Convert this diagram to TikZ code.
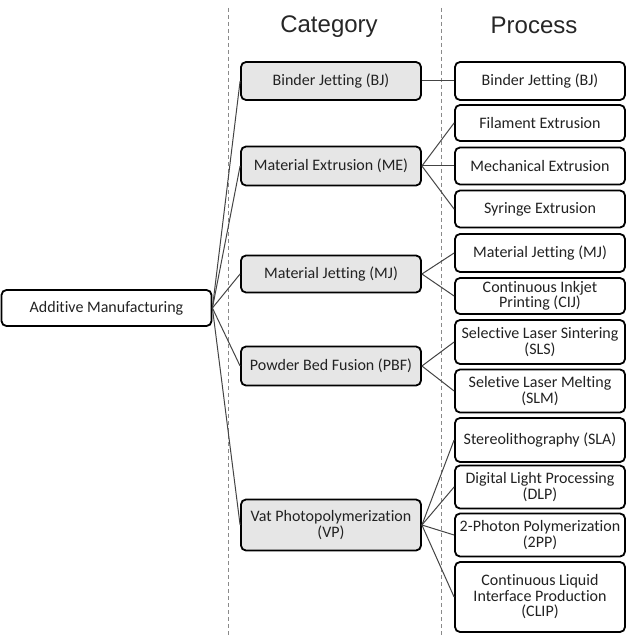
\documentclass[tikz,border=0pt]{standalone}
\usepackage{fontspec}
\setmainfont[Ligatures=NoCommon]{Carlito}
\newfontfamily\headfont{Liberation Sans}
\definecolor{catgray}{HTML}{E6E6E6}
\definecolor{txtgray}{HTML}{222222}
\definecolor{linegray}{HTML}{444444}
\definecolor{dashgray}{HTML}{8A8A8A}
\tikzset{
  box/.style={draw=black,line width=1.8pt,rounded corners=5pt,align=center,
    inner sep=0pt,text=txtgray,font=\fontsize{16}{15.5}\selectfont},
  catbox/.style={box,fill=catgray,minimum width=180pt},
  procbox/.style={box,fill=white,minimum width=170pt},
  link/.style={draw=linegray,line width=1pt},
  coltitle/.style={font=\headfont\fontsize{24}{24}\selectfont,text=black!85}
}
\begin{document}
\begin{tikzpicture}[x=1pt,y=-1pt]
         \useasboundingbox (0,0) rectangle (633,639) ;
         % column separators
         \draw[dashgray,line width=0.8pt,dash pattern=on 4pt off 3pt] (228,8) -- (228,636) ;
         \draw[dashgray,line width=0.8pt,dash pattern=on 4pt off 3pt] (441,8) -- (441,636) ;
         \node[coltitle] (tcat) at (329,27) {Category} ;
         \node[coltitle] (tproc) at (534,25) {Process} ;
         % root
         \node[box,minimum width=210pt,minimum height=36pt] (am) at (106.5,308) {Additive Manufacturing} ;
         % categories
         \node[catbox,minimum height=38pt] (bj) at (331,81) {Binder Jetting (BJ)} ;
         \node[catbox,minimum height=39pt] (me) at (331,166) {Material Extrusion (ME)} ;
         \node[catbox,minimum height=37pt] (mj) at (331,274) {Material Jetting (MJ)} ;
         \node[catbox,minimum height=39pt] (pbf) at (331,366) {Powder Bed Fusion (PBF)} ;
         \node[catbox,minimum height=51pt] (vp) at (331,525) {Vat Photopolymerization\\(VP)} ;
         % processes
         \node[procbox,minimum height=38pt] (pbj) at (540,81) {Binder Jetting (BJ)} ;
         \node[procbox,minimum height=36pt] (fil) at (540,123) {Filament Extrusion} ;
         \node[procbox,minimum height=37pt] (mech) at (540,166) {Mechanical Extrusion} ;
         \node[procbox,minimum height=37pt] (syr) at (540,209) {Syringe Extrusion} ;
         \node[procbox,minimum height=38pt] (pmj) at (540,253) {Material Jetting (MJ)} ;
         \node[procbox,minimum height=36pt] (cij) at (540,296) {Continuous Inkjet\\Printing (CIJ)} ;
         \node[procbox,minimum height=44pt] (sls) at (540,342) {Selective Laser Sintering\\(SLS)} ;
         \node[procbox,minimum height=43pt] (slm) at (540,391) {Seletive Laser Melting\\(SLM)} ;
         \node[procbox,minimum height=44pt] (sla) at (540,440) {Stereolithography (SLA)} ;
         \node[procbox,minimum height=43pt] (dlp) at (540,487) {Digital Light Processing\\(DLP)} ;
         \node[procbox,minimum height=43pt] (tpp) at (540,535) {2-Photon Polymerization\\(2PP)} ;
         \node[procbox,minimum height=70pt] (clip) at (540,597) {Continuous Liquid\\Interface Production\\(CLIP)} ;
         % connectors
         \foreach \c in {bj,me,mj,pbf,vp}
           \draw[link] (am.east) -- (\c.west) ;
         \draw[link] (bj.east) -- (pbj.west) ;
         \foreach \p in {fil,mech,syr}
           \draw[link] (me.east) -- (\p.west) ;
         \foreach \p in {pmj,cij}
           \draw[link] (mj.east) -- (\p.west) ;
         \foreach \p in {sls,slm}
           \draw[link] (pbf.east) -- (\p.west) ;
         \foreach \p in {sla,dlp,tpp,clip}
           \draw[link] (vp.east) -- (\p.west) ;
\end{tikzpicture}
\end{document}
